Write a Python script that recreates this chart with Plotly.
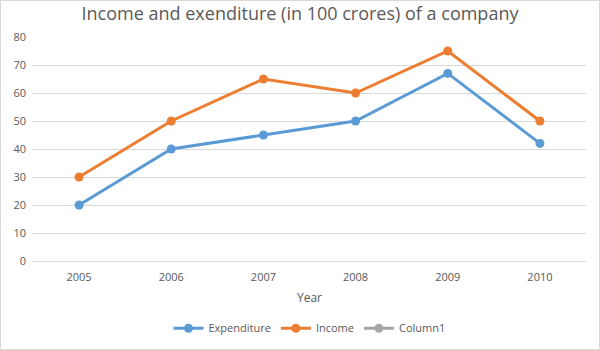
import plotly.graph_objects as go

years = ["2005", "2006", "2007", "2008", "2009", "2010"]
expenditure = [20, 40, 45, 50, 67, 42]
income = [30, 50, 65, 60, 75, 50]
column1 = [None, None, None, None, None, None]

font_family = "Open Sans, Noto Sans, sans-serif"
txt = "#595959"

fig = go.Figure()
fig.add_trace(go.Scatter(x=years, y=expenditure, name="Expenditure", mode="lines+markers",
                         line=dict(color="#5B9BD5", width=3), marker=dict(size=9, color="#5B9BD5")))
fig.add_trace(go.Scatter(x=years, y=income, name="Income", mode="lines+markers",
                         line=dict(color="#ED7D31", width=3), marker=dict(size=9, color="#ED7D31")))
fig.add_trace(go.Scatter(x=years, y=column1, name="Column1", mode="lines+markers",
                         line=dict(color="#A5A5A5", width=3), marker=dict(size=9, color="#A5A5A5")))

fig.update_layout(
    width=600, height=350,
    margin=dict(l=33, r=14, t=37, b=89, autoexpand=False),
    paper_bgcolor="white", plot_bgcolor="white",
    font=dict(family=font_family, color=txt, size=11),
    title=dict(text="Income and exenditure (in 100 crores) of a company",
               x=0.5, xanchor="center", y=0.962, yanchor="middle",
               font=dict(size=18, color=txt)),
    xaxis=dict(type="category", range=[-0.5, len(years) - 0.5], showgrid=False, showline=False, ticks="",
               title=dict(text="Year", font=dict(size=12, color=txt), standoff=10),
               tickfont=dict(size=11, color=txt), ticklabelstandoff=8),
    yaxis=dict(range=[0, 80], dtick=10, showgrid=True, gridcolor="#D9D9D9", gridwidth=1,
               zeroline=True, zerolinecolor="#D9D9D9", zerolinewidth=1,
               showline=False, ticks="", tickfont=dict(size=11, color=txt), ticklabelstandoff=6),
    legend=dict(orientation="h", x=0.5, xanchor="center", y=-0.30, yanchor="middle",
                font=dict(size=11, color=txt), itemwidth=30),
    showlegend=True,
    shapes=[dict(type="rect", xref="paper", yref="paper", x0=-32.5/553, x1=1+13.5/553,
                 y0=-88.5/224, y1=1+36.5/224, line=dict(color="#D9D9D9", width=1))],
)

fig.write_html("out.html")
